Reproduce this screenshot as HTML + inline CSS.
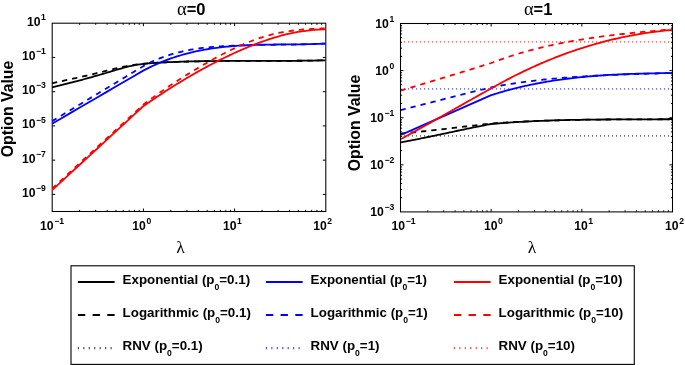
<!DOCTYPE html>
<html><head><meta charset="utf-8"><style>html,body{margin:0;padding:0;background:#fff;overflow:hidden;font-family:"Liberation Sans",sans-serif}svg{display:block;will-change:transform}</style></head><body>
<svg width="685" height="365" viewBox="0 0 685 365" font-family="Liberation Sans, sans-serif" font-weight="bold">
<rect width="685" height="365" fill="#fff"/>
<path d="M79.65 211.5v-1.6M79.65 23.2v1.6M95.71 211.5v-1.6M95.71 23.2v1.6M107.11 211.5v-1.6M107.11 23.2v1.6M115.95 211.5v-1.6M115.95 23.2v1.6M123.17 211.5v-1.6M123.17 23.2v1.6M129.27 211.5v-1.6M129.27 23.2v1.6M134.56 211.5v-1.6M134.56 23.2v1.6M139.23 211.5v-1.6M139.23 23.2v1.6M143.40 211.5v-3M143.40 23.2v3M170.85 211.5v-1.6M170.85 23.2v1.6M186.91 211.5v-1.6M186.91 23.2v1.6M198.31 211.5v-1.6M198.31 23.2v1.6M207.15 211.5v-1.6M207.15 23.2v1.6M214.37 211.5v-1.6M214.37 23.2v1.6M220.47 211.5v-1.6M220.47 23.2v1.6M225.76 211.5v-1.6M225.76 23.2v1.6M230.43 211.5v-1.6M230.43 23.2v1.6M234.60 211.5v-3M234.60 23.2v3M262.05 211.5v-1.6M262.05 23.2v1.6M278.11 211.5v-1.6M278.11 23.2v1.6M289.51 211.5v-1.6M289.51 23.2v1.6M298.35 211.5v-1.6M298.35 23.2v1.6M305.57 211.5v-1.6M305.57 23.2v1.6M311.67 211.5v-1.6M311.67 23.2v1.6M316.96 211.5v-1.6M316.96 23.2v1.6M321.63 211.5v-1.6M321.63 23.2v1.6M52.2 194.38h3M325.8 194.38h-3M52.2 160.15h3M325.8 160.15h-3M52.2 125.91h3M325.8 125.91h-3M52.2 91.67h3M325.8 91.67h-3M52.2 57.44h3M325.8 57.44h-3" stroke="#000" stroke-width="1" fill="none"/>
<rect x="52.2" y="23.2" width="273.60" height="188.30" fill="none" stroke="#000" stroke-width="1.05"/>
<path d="M427.79 211.9v-1.6M427.79 23.5v1.6M443.76 211.9v-1.6M443.76 23.5v1.6M455.09 211.9v-1.6M455.09 23.5v1.6M463.87 211.9v-1.6M463.87 23.5v1.6M471.05 211.9v-1.6M471.05 23.5v1.6M477.12 211.9v-1.6M477.12 23.5v1.6M482.38 211.9v-1.6M482.38 23.5v1.6M487.02 211.9v-1.6M487.02 23.5v1.6M491.17 211.9v-3M491.17 23.5v3M518.46 211.9v-1.6M518.46 23.5v1.6M534.43 211.9v-1.6M534.43 23.5v1.6M545.75 211.9v-1.6M545.75 23.5v1.6M554.54 211.9v-1.6M554.54 23.5v1.6M561.72 211.9v-1.6M561.72 23.5v1.6M567.79 211.9v-1.6M567.79 23.5v1.6M573.05 211.9v-1.6M573.05 23.5v1.6M577.68 211.9v-1.6M577.68 23.5v1.6M581.83 211.9v-3M581.83 23.5v3M609.13 211.9v-1.6M609.13 23.5v1.6M625.09 211.9v-1.6M625.09 23.5v1.6M636.42 211.9v-1.6M636.42 23.5v1.6M645.21 211.9v-1.6M645.21 23.5v1.6M652.39 211.9v-1.6M652.39 23.5v1.6M658.46 211.9v-1.6M658.46 23.5v1.6M663.71 211.9v-1.6M663.71 23.5v1.6M668.35 211.9v-1.6M668.35 23.5v1.6M400.5 197.72h1.6M672.5 197.72h-1.6M400.5 189.43h1.6M672.5 189.43h-1.6M400.5 183.54h1.6M672.5 183.54h-1.6M400.5 178.98h1.6M672.5 178.98h-1.6M400.5 175.25h1.6M672.5 175.25h-1.6M400.5 172.10h1.6M672.5 172.10h-1.6M400.5 169.36h1.6M672.5 169.36h-1.6M400.5 166.96h1.6M672.5 166.96h-1.6M400.5 164.80h3M672.5 164.80h-3M400.5 150.62h1.6M672.5 150.62h-1.6M400.5 142.33h1.6M672.5 142.33h-1.6M400.5 136.44h1.6M672.5 136.44h-1.6M400.5 131.88h1.6M672.5 131.88h-1.6M400.5 128.15h1.6M672.5 128.15h-1.6M400.5 125.00h1.6M672.5 125.00h-1.6M400.5 122.26h1.6M672.5 122.26h-1.6M400.5 119.86h1.6M672.5 119.86h-1.6M400.5 117.70h3M672.5 117.70h-3M400.5 103.52h1.6M672.5 103.52h-1.6M400.5 95.23h1.6M672.5 95.23h-1.6M400.5 89.34h1.6M672.5 89.34h-1.6M400.5 84.78h1.6M672.5 84.78h-1.6M400.5 81.05h1.6M672.5 81.05h-1.6M400.5 77.90h1.6M672.5 77.90h-1.6M400.5 75.16h1.6M672.5 75.16h-1.6M400.5 72.76h1.6M672.5 72.76h-1.6M400.5 70.60h3M672.5 70.60h-3M400.5 56.42h1.6M672.5 56.42h-1.6M400.5 48.13h1.6M672.5 48.13h-1.6M400.5 42.24h1.6M672.5 42.24h-1.6M400.5 37.68h1.6M672.5 37.68h-1.6M400.5 33.95h1.6M672.5 33.95h-1.6M400.5 30.80h1.6M672.5 30.80h-1.6M400.5 28.06h1.6M672.5 28.06h-1.6M400.5 25.66h1.6M672.5 25.66h-1.6" stroke="#000" stroke-width="1" fill="none"/>
<rect x="400.5" y="23.5" width="272.00" height="188.40" fill="none" stroke="#000" stroke-width="1.05"/>
<defs><clipPath id="cl"><rect x="52" y="23" width="274" height="188.5"/></clipPath><clipPath id="cr"><rect x="401" y="23.5" width="271" height="188.4"/></clipPath></defs>
<g clip-path="url(#cl)" fill="none" stroke-width="1.8" stroke-linejoin="round">
<path d="M52.00 87.39L54.00 86.92L55.99 86.45L57.99 85.97L59.99 85.48L61.98 84.99L63.98 84.49L65.97 83.99L67.97 83.48L69.97 82.97L71.96 82.45L73.96 81.93L75.96 81.40L77.95 80.87L79.95 80.34L81.95 79.80L83.94 79.25L85.94 78.70L87.93 78.15L89.93 77.59L91.93 77.03L93.92 76.47L95.92 75.90L97.92 75.32L99.91 74.75L101.91 74.16L103.91 73.58L105.90 72.99L107.90 72.40L109.89 71.80L111.89 71.20L113.89 70.60L115.88 70.01L117.88 69.42L119.88 68.84L121.87 68.27L123.87 67.72L125.86 67.20L127.86 66.69L129.86 66.21L131.85 65.76L133.85 65.35L135.85 64.97L137.84 64.63L139.84 64.33L141.84 64.06L143.83 63.81L145.83 63.60L147.82 63.40L149.82 63.23L151.82 63.08L153.81 62.94L155.81 62.82L157.81 62.70L159.80 62.60L161.80 62.49L163.80 62.40L165.79 62.30L167.79 62.21L169.78 62.13L171.78 62.04L173.78 61.96L175.77 61.89L177.77 61.82L179.77 61.75L181.76 61.69L183.76 61.63L185.76 61.57L187.75 61.51L189.75 61.46L191.74 61.41L193.74 61.37L195.74 61.32L197.73 61.28L199.73 61.25L201.73 61.21L203.72 61.18L205.72 61.15L207.72 61.12L209.71 61.10L211.71 61.07L213.70 61.05L215.70 61.03L217.70 61.01L219.69 61.00L221.69 60.98L223.69 60.97L225.68 60.96L227.68 60.95L229.68 60.94L231.67 60.93L233.67 60.92L235.66 60.92L237.66 60.91L239.66 60.91L241.65 60.91L243.65 60.90L245.65 60.90L247.64 60.90L249.64 60.90L251.64 60.90L253.63 60.90L255.63 60.90L257.62 60.90L259.62 60.90L261.62 60.90L263.61 60.90L265.61 60.90L267.61 60.89L269.60 60.89L271.60 60.89L273.59 60.89L275.59 60.88L277.59 60.88L279.58 60.87L281.58 60.87L283.58 60.86L285.57 60.85L287.57 60.84L289.57 60.83L291.56 60.82L293.56 60.80L295.55 60.79L297.55 60.77L299.55 60.75L301.54 60.73L303.54 60.70L305.54 60.68L307.53 60.65L309.53 60.62L311.53 60.59L313.52 60.55L315.52 60.52L317.51 60.48L319.51 60.43L321.51 60.39L323.50 60.34L325.50 60.29" stroke="#000"/>
<path d="M52.00 83.19L54.00 82.77L55.99 82.35L57.99 81.93L59.99 81.50L61.98 81.08L63.98 80.65L65.97 80.22L67.97 79.79L69.97 79.36L71.96 78.93L73.96 78.49L75.96 78.05L77.95 77.60L79.95 77.15L81.95 76.69L83.94 76.23L85.94 75.77L87.93 75.30L89.93 74.82L91.93 74.33L93.92 73.84L95.92 73.34L97.92 72.84L99.91 72.33L101.91 71.83L103.91 71.32L105.90 70.81L107.90 70.31L109.89 69.82L111.89 69.33L113.89 68.85L115.88 68.38L117.88 67.92L119.88 67.48L121.87 67.06L123.87 66.65L125.86 66.26L127.86 65.89L129.86 65.55L131.85 65.23L133.85 64.92L135.85 64.64L137.84 64.38L139.84 64.14L141.84 63.93L143.83 63.73L145.83 63.55L147.82 63.38L149.82 63.22L151.82 63.08L153.81 62.94L155.81 62.82L157.81 62.70L159.80 62.60L161.80 62.49L163.80 62.40L165.79 62.30L167.79 62.21L169.78 62.13L171.78 62.04L173.78 61.96L175.77 61.89L177.77 61.82L179.77 61.75L181.76 61.69L183.76 61.63L185.76 61.57L187.75 61.51L189.75 61.46L191.74 61.41L193.74 61.37L195.74 61.32L197.73 61.28L199.73 61.25L201.73 61.21L203.72 61.18L205.72 61.15L207.72 61.12L209.71 61.10L211.71 61.07L213.70 61.05L215.70 61.03L217.70 61.01L219.69 61.00L221.69 60.98L223.69 60.97L225.68 60.96L227.68 60.95L229.68 60.94L231.67 60.93L233.67 60.92L235.66 60.92L237.66 60.91L239.66 60.91L241.65 60.91L243.65 60.90L245.65 60.90L247.64 60.90L249.64 60.90L251.64 60.90L253.63 60.90L255.63 60.90L257.62 60.90L259.62 60.90L261.62 60.90L263.61 60.90L265.61 60.90L267.61 60.89L269.60 60.89L271.60 60.89L273.59 60.89L275.59 60.88L277.59 60.88L279.58 60.87L281.58 60.87L283.58 60.86L285.57 60.85L287.57 60.84L289.57 60.83L291.56 60.82L293.56 60.80L295.55 60.79L297.55 60.77L299.55 60.75L301.54 60.73L303.54 60.70L305.54 60.68L307.53 60.65L309.53 60.62L311.53 60.59L313.52 60.55L315.52 60.52L317.51 60.48L319.51 60.43L321.51 60.39L323.50 60.34L325.50 60.29" stroke="#000" stroke-dasharray="5.3 5.0"/>
<path d="M52.00 123.74L61.12 118.42L70.24 113.11L79.36 107.80L88.48 102.49L97.60 97.18L106.72 91.86L115.84 86.55L124.96 81.24L134.08 75.93L143.20 70.61L145.18 69.64L147.16 68.62L149.14 67.62L151.13 66.66L153.11 65.72L155.09 64.81L157.07 63.93L159.05 63.07L161.03 62.24L163.02 61.43L165.00 60.65L166.98 59.89L168.96 59.16L170.94 58.45L172.92 57.77L174.90 57.11L176.89 56.47L178.87 55.85L180.85 55.26L182.83 54.69L184.81 54.13L186.79 53.60L188.77 53.09L190.76 52.60L192.74 52.13L194.72 51.67L196.70 51.24L198.68 50.82L200.66 50.42L202.65 50.04L204.63 49.68L206.61 49.33L208.59 49.00L210.57 48.69L212.55 48.39L214.53 48.10L216.52 47.83L218.50 47.57L220.48 47.33L222.46 47.10L224.44 46.89L226.42 46.68L228.41 46.49L230.39 46.31L232.37 46.14L234.35 45.99L236.33 45.84L238.31 45.70L240.29 45.58L242.28 45.46L244.26 45.35L246.24 45.25L248.22 45.16L250.20 45.07L252.18 45.00L254.17 44.93L256.15 44.86L258.13 44.81L260.11 44.75L262.09 44.71L264.07 44.66L266.05 44.63L268.04 44.59L270.02 44.56L272.00 44.54L273.98 44.52L275.96 44.49L277.94 44.48L279.93 44.46L281.91 44.44L283.89 44.43L285.87 44.41L287.85 44.40L289.83 44.38L291.81 44.37L293.80 44.35L295.78 44.33L297.76 44.31L299.74 44.29L301.72 44.26L303.70 44.23L305.68 44.20L307.67 44.16L309.65 44.12L311.63 44.08L313.61 44.03L315.59 43.97L317.57 43.91L319.56 43.84L321.54 43.76L323.52 43.68L325.50 43.59" stroke="#00f"/>
<path d="M52.00 121.15L61.12 115.65L70.24 110.15L79.36 104.66L88.48 99.16L97.60 93.66L106.72 88.17L115.84 82.67L124.96 77.17L134.08 71.68L143.20 66.18L145.18 65.08L147.16 64.05L149.14 63.05L151.13 62.09L153.11 61.17L155.09 60.29L157.07 59.44L159.05 58.63L161.03 57.85L163.02 57.11L165.00 56.40L166.98 55.72L168.96 55.07L170.94 54.45L172.92 53.86L174.90 53.30L176.89 52.76L178.87 52.26L180.85 51.78L182.83 51.32L184.81 50.89L186.79 50.48L188.77 50.10L190.76 49.73L192.74 49.39L194.72 49.07L196.70 48.77L198.68 48.49L200.66 48.22L202.65 47.97L204.63 47.74L206.61 47.52L208.59 47.32L210.57 47.13L212.55 46.95L214.53 46.79L216.52 46.63L218.50 46.49L220.48 46.36L222.46 46.23L224.44 46.12L226.42 46.01L228.41 45.90L230.39 45.81L232.37 45.72L234.35 45.63L236.33 45.55L238.31 45.48L240.29 45.41L242.28 45.35L244.26 45.29L246.24 45.24L248.22 45.18L250.20 45.14L252.18 45.09L254.17 45.05L256.15 45.02L258.13 44.98L260.11 44.95L262.09 44.92L264.07 44.89L266.05 44.87L268.04 44.84L270.02 44.82L272.00 44.80L273.98 44.78L275.96 44.75L277.94 44.73L279.93 44.71L281.91 44.69L283.89 44.67L285.87 44.64L287.85 44.62L289.83 44.59L291.81 44.56L293.80 44.53L295.78 44.50L297.76 44.47L299.74 44.43L301.72 44.39L303.70 44.34L305.68 44.30L307.67 44.24L309.65 44.19L311.63 44.13L313.61 44.06L315.59 43.99L317.57 43.92L319.56 43.84L321.54 43.75L323.52 43.66L325.50 43.56" stroke="#00f" stroke-dasharray="5.3 5.0"/>
<path d="M52.00 190.18L61.12 181.79L70.24 173.40L79.36 165.00L88.48 156.61L97.60 148.22L106.72 139.83L115.84 131.44L124.96 123.05L134.08 114.66L143.20 106.26L145.18 104.89L147.16 103.52L149.14 102.16L151.13 100.82L153.11 99.48L155.09 98.14L157.07 96.82L159.05 95.51L161.03 94.20L163.02 92.91L165.00 91.62L166.98 90.34L168.96 89.07L170.94 87.82L172.92 86.57L174.90 85.33L176.89 84.10L178.87 82.88L180.85 81.67L182.83 80.47L184.81 79.28L186.79 78.09L188.77 76.92L190.76 75.76L192.74 74.62L194.72 73.48L196.70 72.35L198.68 71.23L200.66 70.12L202.65 69.03L204.63 67.94L206.61 66.87L208.59 65.81L210.57 64.76L212.55 63.72L214.53 62.69L216.52 61.67L218.50 60.66L220.48 59.67L222.46 58.69L224.44 57.72L226.42 56.76L228.41 55.82L230.39 54.88L232.37 53.96L234.35 53.05L236.33 52.15L238.31 51.27L240.29 50.40L242.28 49.54L244.26 48.69L246.24 47.86L248.22 47.04L250.20 46.23L252.18 45.44L254.17 44.66L256.15 43.89L258.13 43.14L260.11 42.41L262.09 41.69L264.07 40.98L266.05 40.30L268.04 39.63L270.02 38.97L272.00 38.34L273.98 37.72L275.96 37.13L277.94 36.55L279.93 36.00L281.91 35.46L283.89 34.95L285.87 34.45L287.85 33.98L289.83 33.53L291.81 33.11L293.80 32.71L295.78 32.33L297.76 31.97L299.74 31.63L301.72 31.32L303.70 31.03L305.68 30.77L307.67 30.52L309.65 30.30L311.63 30.10L313.61 29.92L315.59 29.77L317.57 29.64L319.56 29.53L321.54 29.44L323.52 29.38L325.50 29.34" stroke="#f00"/>
<path d="M52.00 188.68L61.12 180.29L70.24 171.90L79.36 163.50L88.48 155.11L97.60 146.72L106.72 138.33L115.84 129.94L124.96 121.55L134.08 113.16L143.20 104.76L145.18 103.23L147.16 101.74L149.14 100.26L151.13 98.80L153.11 97.36L155.09 95.93L157.07 94.52L159.05 93.12L161.03 91.74L163.02 90.37L165.00 89.01L166.98 87.67L168.96 86.34L170.94 85.02L172.92 83.71L174.90 82.42L176.89 81.13L178.87 79.86L180.85 78.59L182.83 77.34L184.81 76.09L186.79 74.86L188.77 73.63L190.76 72.41L192.74 71.20L194.72 69.99L196.70 68.79L198.68 67.61L200.66 66.43L202.65 65.26L204.63 64.10L206.61 62.95L208.59 61.82L210.57 60.69L212.55 59.58L214.53 58.48L216.52 57.39L218.50 56.32L220.48 55.26L222.46 54.22L224.44 53.20L226.42 52.19L228.41 51.19L230.39 50.22L232.37 49.26L234.35 48.32L236.33 47.39L238.31 46.49L240.29 45.61L242.28 44.75L244.26 43.91L246.24 43.09L248.22 42.29L250.20 41.51L252.18 40.75L254.17 40.02L256.15 39.31L258.13 38.62L260.11 37.96L262.09 37.32L264.07 36.70L266.05 36.11L268.04 35.55L270.02 35.01L272.00 34.49L273.98 34.00L275.96 33.54L277.94 33.11L279.93 32.70L281.91 32.32L283.89 31.96L285.87 31.62L287.85 31.31L289.83 31.02L291.81 30.75L293.80 30.50L295.78 30.27L297.76 30.06L299.74 29.86L301.72 29.68L303.70 29.52L305.68 29.36L307.67 29.22L309.65 29.09L311.63 28.97L313.61 28.86L315.59 28.76L317.57 28.66L319.56 28.57L321.54 28.49L323.52 28.41L325.50 28.33" stroke="#f00" stroke-dasharray="5.3 5.0"/>
</g>
<g clip-path="url(#cr)" fill="none" stroke-width="1.8" stroke-linejoin="round">
<path d="M404.05 135.95H672" stroke="#000" stroke-dasharray="0.9 3.1" stroke-width="1.8" stroke-opacity="0.62"/>
<path d="M404.05 88.9H672" stroke="#00f" stroke-dasharray="0.9 3.1" stroke-width="1.8" stroke-opacity="0.62"/>
<path d="M404.05 41.8H672" stroke="#f00" stroke-dasharray="0.9 3.1" stroke-width="1.8" stroke-opacity="0.62"/>
<path d="M400.50 142.40L402.47 142.04L404.44 141.68L406.42 141.31L408.39 140.94L410.36 140.56L412.33 140.18L414.30 139.79L416.27 139.40L418.25 139.01L420.22 138.61L422.19 138.22L424.16 137.81L426.13 137.41L428.10 137.00L430.08 136.59L432.05 136.18L434.02 135.77L435.99 135.35L437.96 134.94L439.93 134.52L441.91 134.10L443.88 133.68L445.85 133.26L447.82 132.85L449.79 132.43L451.77 132.01L453.74 131.59L455.71 131.17L457.68 130.75L459.65 130.34L461.62 129.92L463.60 129.51L465.57 129.10L467.54 128.69L469.51 128.28L471.48 127.87L473.45 127.47L475.43 127.07L477.40 126.67L479.37 126.28L481.34 125.89L483.31 125.50L485.28 125.12L487.26 124.74L489.23 124.37L491.20 124.00L493.19 123.83L495.18 123.66L497.18 123.49L499.17 123.33L501.16 123.18L503.15 123.03L505.15 122.88L507.14 122.73L509.13 122.60L511.12 122.46L513.12 122.33L515.11 122.20L517.10 122.08L519.09 121.96L521.08 121.84L523.08 121.73L525.07 121.62L527.06 121.52L529.05 121.41L531.05 121.31L533.04 121.22L535.03 121.13L537.02 121.04L539.02 120.95L541.01 120.87L543.00 120.79L544.99 120.72L546.98 120.64L548.98 120.57L550.97 120.50L552.96 120.44L554.95 120.38L556.95 120.32L558.94 120.26L560.93 120.20L562.92 120.15L564.92 120.10L566.91 120.05L568.90 120.01L570.89 119.96L572.88 119.92L574.88 119.88L576.87 119.85L578.86 119.81L580.85 119.78L582.85 119.75L584.84 119.72L586.83 119.69L588.82 119.66L590.82 119.64L592.81 119.61L594.80 119.59L596.79 119.57L598.78 119.55L600.78 119.53L602.77 119.52L604.76 119.50L606.75 119.49L608.75 119.47L610.74 119.46L612.73 119.45L614.72 119.44L616.72 119.43L618.71 119.42L620.70 119.41L622.69 119.40L624.68 119.39L626.68 119.38L628.67 119.38L630.66 119.37L632.65 119.36L634.65 119.36L636.64 119.35L638.63 119.35L640.62 119.34L642.62 119.33L644.61 119.33L646.60 119.32L648.59 119.32L650.58 119.31L652.58 119.30L654.57 119.29L656.56 119.29L658.55 119.28L660.55 119.27L662.54 119.26L664.53 119.25L666.52 119.24L668.52 119.23L670.51 119.21L672.50 119.20" stroke="#000"/>
<path d="M400.50 133.60L402.47 133.42L404.44 133.24L406.42 133.05L408.39 132.86L410.36 132.67L412.33 132.48L414.30 132.28L416.27 132.08L418.25 131.87L420.22 131.67L422.19 131.46L424.16 131.25L426.13 131.03L428.10 130.82L430.08 130.60L432.05 130.38L434.02 130.16L435.99 129.94L437.96 129.71L439.93 129.49L441.91 129.26L443.88 129.03L445.85 128.80L447.82 128.58L449.79 128.35L451.77 128.12L453.74 127.88L455.71 127.65L457.68 127.42L459.65 127.19L461.62 126.96L463.60 126.73L465.57 126.50L467.54 126.27L469.51 126.04L471.48 125.81L473.45 125.59L475.43 125.36L477.40 125.13L479.37 124.91L481.34 124.69L483.31 124.47L485.28 124.25L487.26 124.03L489.23 123.81L491.20 123.60L493.19 123.42L495.18 123.27L497.18 123.13L499.17 122.99L501.16 122.85L503.15 122.71L505.15 122.58L507.14 122.46L509.13 122.33L511.12 122.21L513.12 122.10L515.11 121.98L517.10 121.87L519.09 121.77L521.08 121.66L523.08 121.56L525.07 121.47L527.06 121.37L529.05 121.28L531.05 121.19L533.04 121.11L535.03 121.03L537.02 120.95L539.02 120.87L541.01 120.80L543.00 120.72L544.99 120.66L546.98 120.59L548.98 120.53L550.97 120.46L552.96 120.41L554.95 120.35L556.95 120.29L558.94 120.24L560.93 120.19L562.92 120.14L564.92 120.10L566.91 120.05L568.90 120.01L570.89 119.97L572.88 119.93L574.88 119.90L576.87 119.86L578.86 119.83L580.85 119.80L582.85 119.77L584.84 119.74L586.83 119.71L588.82 119.69L590.82 119.66L592.81 119.64L594.80 119.62L596.79 119.60L598.78 119.58L600.78 119.56L602.77 119.55L604.76 119.53L606.75 119.51L608.75 119.50L610.74 119.49L612.73 119.47L614.72 119.46L616.72 119.45L618.71 119.44L620.70 119.43L622.69 119.42L624.68 119.41L626.68 119.40L628.67 119.40L630.66 119.39L632.65 119.38L634.65 119.37L636.64 119.37L638.63 119.36L640.62 119.35L642.62 119.34L644.61 119.34L646.60 119.33L648.59 119.32L650.58 119.31L652.58 119.31L654.57 119.30L656.56 119.29L658.55 119.28L660.55 119.27L662.54 119.26L664.53 119.25L666.52 119.24L668.52 119.23L670.51 119.21L672.50 119.20" stroke="#000" stroke-dasharray="5.3 5.0"/>
<path d="M400.50 135.09L409.57 131.09L418.64 127.10L427.71 123.11L436.78 119.12L445.85 115.13L454.92 111.14L463.99 107.15L473.06 103.15L482.13 99.16L491.20 95.17L493.19 94.55L495.18 93.93L497.18 93.31L499.17 92.71L501.16 92.13L503.15 91.55L505.15 90.99L507.14 90.43L509.13 89.89L511.12 89.37L513.12 88.85L515.11 88.34L517.10 87.85L519.09 87.37L521.08 86.89L523.08 86.43L525.07 85.98L527.06 85.54L529.05 85.11L531.05 84.69L533.04 84.28L535.03 83.88L537.02 83.50L539.02 83.12L541.01 82.75L543.00 82.39L544.99 82.04L546.98 81.69L548.98 81.36L550.97 81.04L552.96 80.72L554.95 80.42L556.95 80.12L558.94 79.83L560.93 79.55L562.92 79.28L564.92 79.01L566.91 78.76L568.90 78.51L570.89 78.27L572.88 78.04L574.88 77.81L576.87 77.59L578.86 77.38L580.85 77.17L582.85 76.98L584.84 76.79L586.83 76.60L588.82 76.42L590.82 76.25L592.81 76.09L594.80 75.93L596.79 75.77L598.78 75.62L600.78 75.48L602.77 75.35L604.76 75.21L606.75 75.09L608.75 74.97L610.74 74.85L612.73 74.74L614.72 74.64L616.72 74.53L618.71 74.44L620.70 74.34L622.69 74.25L624.68 74.17L626.68 74.09L628.67 74.01L630.66 73.94L632.65 73.87L634.65 73.80L636.64 73.74L638.63 73.68L640.62 73.62L642.62 73.57L644.61 73.52L646.60 73.47L648.59 73.42L650.58 73.38L652.58 73.34L654.57 73.30L656.56 73.26L658.55 73.22L660.55 73.19L662.54 73.16L664.53 73.12L666.52 73.09L668.52 73.06L670.51 73.04L672.50 73.01" stroke="#00f"/>
<path d="M400.50 110.20L402.47 109.71L404.44 109.22L406.42 108.72L408.39 108.23L410.36 107.73L412.33 107.23L414.30 106.74L416.27 106.24L418.25 105.74L420.22 105.23L422.19 104.73L424.16 104.23L426.13 103.72L428.10 103.22L430.08 102.71L432.05 102.21L434.02 101.70L435.99 101.19L437.96 100.69L439.93 100.18L441.91 99.68L443.88 99.17L445.85 98.66L447.82 98.16L449.79 97.66L451.77 97.15L453.74 96.65L455.71 96.15L457.68 95.65L459.65 95.15L461.62 94.65L463.60 94.15L465.57 93.65L467.54 93.16L469.51 92.67L471.48 92.18L473.45 91.69L475.43 91.20L477.40 90.72L479.37 90.23L481.34 89.75L483.31 89.27L485.28 88.80L487.26 88.33L489.23 87.86L491.20 87.39L493.19 86.97L495.18 86.59L497.18 86.23L499.17 85.87L501.16 85.51L503.15 85.17L505.15 84.83L507.14 84.50L509.13 84.18L511.12 83.87L513.12 83.56L515.11 83.26L517.10 82.96L519.09 82.68L521.08 82.40L523.08 82.12L525.07 81.85L527.06 81.59L529.05 81.34L531.05 81.09L533.04 80.84L535.03 80.61L537.02 80.37L539.02 80.15L541.01 79.93L543.00 79.71L544.99 79.51L546.98 79.30L548.98 79.10L550.97 78.91L552.96 78.72L554.95 78.54L556.95 78.36L558.94 78.19L560.93 78.02L562.92 77.85L564.92 77.69L566.91 77.54L568.90 77.39L570.89 77.24L572.88 77.10L574.88 76.96L576.87 76.82L578.86 76.69L580.85 76.56L582.85 76.44L584.84 76.32L586.83 76.20L588.82 76.09L590.82 75.98L592.81 75.87L594.80 75.77L596.79 75.66L598.78 75.57L600.78 75.47L602.77 75.38L604.76 75.29L606.75 75.20L608.75 75.11L610.74 75.03L612.73 74.94L614.72 74.86L616.72 74.79L618.71 74.71L620.70 74.64L622.69 74.56L624.68 74.49L626.68 74.42L628.67 74.35L630.66 74.29L632.65 74.22L634.65 74.16L636.64 74.09L638.63 74.03L640.62 73.97L642.62 73.91L644.61 73.85L646.60 73.78L648.59 73.72L650.58 73.66L652.58 73.60L654.57 73.54L656.56 73.48L658.55 73.42L660.55 73.36L662.54 73.30L664.53 73.24L666.52 73.18L668.52 73.12L670.51 73.06L672.50 72.99" stroke="#00f" stroke-dasharray="5.3 5.0"/>
<path d="M400.50 139.30L402.47 138.22L404.44 137.14L406.42 136.06L408.39 134.97L410.36 133.88L412.33 132.79L414.30 131.69L416.27 130.59L418.25 129.49L420.22 128.39L422.19 127.29L424.16 126.18L426.13 125.07L428.10 123.96L430.08 122.85L432.05 121.74L434.02 120.63L435.99 119.51L437.96 118.40L439.93 117.28L441.91 116.16L443.88 115.04L445.85 113.93L447.82 112.81L449.79 111.69L451.77 110.57L453.74 109.45L455.71 108.33L457.68 107.21L459.65 106.10L461.62 104.98L463.60 103.86L465.57 102.75L467.54 101.64L469.51 100.52L471.48 99.41L473.45 98.30L475.43 97.19L477.40 96.09L479.37 94.98L481.34 93.88L483.31 92.78L485.28 91.68L487.26 90.58L489.23 89.49L491.20 88.40L493.19 87.29L495.18 86.16L497.18 85.05L499.17 83.95L501.16 82.87L503.15 81.79L505.15 80.72L507.14 79.67L509.13 78.63L511.12 77.59L513.12 76.57L515.11 75.56L517.10 74.56L519.09 73.58L521.08 72.60L523.08 71.64L525.07 70.68L527.06 69.74L529.05 68.81L531.05 67.89L533.04 66.98L535.03 66.08L537.02 65.19L539.02 64.31L541.01 63.45L543.00 62.59L544.99 61.75L546.98 60.91L548.98 60.09L550.97 59.28L552.96 58.48L554.95 57.69L556.95 56.91L558.94 56.14L560.93 55.39L562.92 54.64L564.92 53.90L566.91 53.18L568.90 52.47L570.89 51.76L572.88 51.07L574.88 50.39L576.87 49.72L578.86 49.06L580.85 48.41L582.85 47.77L584.84 47.14L586.83 46.53L588.82 45.92L590.82 45.33L592.81 44.74L594.80 44.17L596.79 43.60L598.78 43.05L600.78 42.51L602.77 41.97L604.76 41.45L606.75 40.94L608.75 40.44L610.74 39.95L612.73 39.47L614.72 39.00L616.72 38.54L618.71 38.10L620.70 37.66L622.69 37.23L624.68 36.82L626.68 36.41L628.67 36.01L630.66 35.63L632.65 35.25L634.65 34.89L636.64 34.53L638.63 34.19L640.62 33.86L642.62 33.53L644.61 33.22L646.60 32.92L648.59 32.63L650.58 32.34L652.58 32.07L654.57 31.81L656.56 31.56L658.55 31.32L660.55 31.09L662.54 30.87L664.53 30.66L666.52 30.46L668.52 30.27L670.51 30.09L672.50 29.92" stroke="#f00"/>
<path d="M400.50 90.61L402.47 90.03L404.44 89.44L406.42 88.86L408.39 88.28L410.36 87.69L412.33 87.10L414.30 86.52L416.27 85.93L418.25 85.34L420.22 84.75L422.19 84.17L424.16 83.57L426.13 82.98L428.10 82.39L430.08 81.80L432.05 81.21L434.02 80.61L435.99 80.02L437.96 79.42L439.93 78.82L441.91 78.23L443.88 77.63L445.85 77.03L447.82 76.43L449.79 75.83L451.77 75.23L453.74 74.63L455.71 74.02L457.68 73.42L459.65 72.81L461.62 72.21L463.60 71.60L465.57 70.99L467.54 70.38L469.51 69.77L471.48 69.16L473.45 68.55L475.43 67.94L477.40 67.33L479.37 66.71L481.34 66.10L483.31 65.48L485.28 64.86L487.26 64.25L489.23 63.63L491.20 63.01L493.19 62.23L495.18 61.49L497.18 60.76L499.17 60.04L501.16 59.33L503.15 58.64L505.15 57.96L507.14 57.29L509.13 56.63L511.12 55.99L513.12 55.35L515.11 54.73L517.10 54.12L519.09 53.51L521.08 52.92L523.08 52.35L525.07 51.78L527.06 51.22L529.05 50.67L531.05 50.13L533.04 49.61L535.03 49.09L537.02 48.58L539.02 48.08L541.01 47.59L543.00 47.11L544.99 46.64L546.98 46.18L548.98 45.73L550.97 45.29L552.96 44.85L554.95 44.42L556.95 44.01L558.94 43.60L560.93 43.19L562.92 42.80L564.92 42.42L566.91 42.04L568.90 41.67L570.89 41.30L572.88 40.95L574.88 40.60L576.87 40.26L578.86 39.92L580.85 39.59L582.85 39.27L584.84 38.95L586.83 38.65L588.82 38.34L590.82 38.04L592.81 37.75L594.80 37.47L596.79 37.19L598.78 36.91L600.78 36.64L602.77 36.38L604.76 36.12L606.75 35.87L608.75 35.62L610.74 35.37L612.73 35.13L614.72 34.89L616.72 34.66L618.71 34.43L620.70 34.21L622.69 33.99L624.68 33.77L626.68 33.56L628.67 33.35L630.66 33.14L632.65 32.94L634.65 32.74L636.64 32.54L638.63 32.34L640.62 32.15L642.62 31.96L644.61 31.77L646.60 31.58L648.59 31.40L650.58 31.21L652.58 31.03L654.57 30.85L656.56 30.67L658.55 30.50L660.55 30.32L662.54 30.14L664.53 29.97L666.52 29.80L668.52 29.62L670.51 29.45L672.50 29.28" stroke="#f00" stroke-dasharray="5.3 5.0"/>
</g>
<text x="40.00" y="229.5" font-size="12.2">10<tspan font-size="8.6" dx="0.6" dy="-5.8">−1</tspan></text>
<text x="132.30" y="229.5" font-size="12.2">10<tspan font-size="8.6" dx="0.6" dy="-5.8">0</tspan></text>
<text x="222.90" y="229.5" font-size="12.2">10<tspan font-size="8.6" dx="0.6" dy="-5.8">1</tspan></text>
<text x="313.20" y="229.5" font-size="12.2">10<tspan font-size="8.6" dx="0.6" dy="-5.8">2</tspan></text>
<text x="391.50" y="230.1" font-size="12.2">10<tspan font-size="8.6" dx="0.6" dy="-5.8">−1</tspan></text>
<text x="483.90" y="230.1" font-size="12.2">10<tspan font-size="8.6" dx="0.6" dy="-5.8">0</tspan></text>
<text x="574.20" y="230.1" font-size="12.2">10<tspan font-size="8.6" dx="0.6" dy="-5.8">1</tspan></text>
<text x="665.00" y="230.1" font-size="12.2">10<tspan font-size="8.6" dx="0.6" dy="-5.8">2</tspan></text>
<text x="45.90" y="25.70" text-anchor="end" font-size="12.2">10<tspan font-size="8.6" dx="0.6" dy="-5.8">1</tspan></text>
<text x="45.90" y="59.94" text-anchor="end" font-size="12.2">10<tspan font-size="8.6" dx="0.6" dy="-5.8">−1</tspan></text>
<text x="45.90" y="94.17" text-anchor="end" font-size="12.2">10<tspan font-size="8.6" dx="0.6" dy="-5.8">−3</tspan></text>
<text x="45.90" y="128.41" text-anchor="end" font-size="12.2">10<tspan font-size="8.6" dx="0.6" dy="-5.8">−5</tspan></text>
<text x="45.90" y="162.65" text-anchor="end" font-size="12.2">10<tspan font-size="8.6" dx="0.6" dy="-5.8">−7</tspan></text>
<text x="45.90" y="196.88" text-anchor="end" font-size="12.2">10<tspan font-size="8.6" dx="0.6" dy="-5.8">−9</tspan></text>
<text x="394.20" y="27.50" text-anchor="end" font-size="12.2">10<tspan font-size="8.6" dx="0.6" dy="-5.8">1</tspan></text>
<text x="394.20" y="74.60" text-anchor="end" font-size="12.2">10<tspan font-size="8.6" dx="0.6" dy="-5.8">0</tspan></text>
<text x="394.20" y="121.70" text-anchor="end" font-size="12.2">10<tspan font-size="8.6" dx="0.6" dy="-5.8">−1</tspan></text>
<text x="394.20" y="168.80" text-anchor="end" font-size="12.2">10<tspan font-size="8.6" dx="0.6" dy="-5.8">−2</tspan></text>
<text x="394.20" y="215.90" text-anchor="end" font-size="12.2">10<tspan font-size="8.6" dx="0.6" dy="-5.8">−3</tspan></text>
<text x="177" y="14.5" font-size="16.5"><tspan font-family="Liberation Serif, serif" font-weight="normal" font-size="18.5">α</tspan>=0</text>
<text x="523.9" y="14.5" font-size="16.5"><tspan font-family="Liberation Serif, serif" font-weight="normal" font-size="18.5">α</tspan>=1</text>
<text x="176.3" y="252.5" font-size="17.5" font-family="Liberation Serif, serif" font-weight="normal">λ</text>
<text x="527.8" y="252.8" font-size="17.5" font-family="Liberation Serif, serif" font-weight="normal">λ</text>
<text transform="translate(13.4 157.3) rotate(-90)" font-size="15.8">Option Value</text>
<text transform="translate(359.7 171.3) rotate(-90)" font-size="15.8">Option Value</text>
<rect x="71" y="265.8" width="563.3" height="98.6" fill="none" stroke="#000" stroke-width="1.1"/>
<path d="M77.90 282.0H114.60" stroke="#000" stroke-width="2"/>
<text x="122.6" y="284.0" font-size="13.35">Exponential (p<tspan font-size="8.6" dy="6.3">0</tspan><tspan dy="-6.3">=0.1)</tspan></text>
<path d="M77.90 315.1H114.60" stroke="#000" stroke-width="2" stroke-dasharray="7.35 7.35"/>
<text x="122.6" y="316.9" font-size="13.35">Logarithmic (p<tspan font-size="8.6" dy="6.3">0</tspan><tspan dy="-6.3">=0.1)</tspan></text>
<path d="M77.85 348.1H111.85" stroke="#000" stroke-width="2.4" stroke-opacity="0.75" stroke-dasharray="1.1 4.35"/>
<text x="122.6" y="349.8" font-size="13.35">RNV (p<tspan font-size="8.6" dy="6.3">0</tspan><tspan dy="-6.3">=0.1)</tspan></text>
<path d="M265.90 282.0H302.60" stroke="#00f" stroke-width="2"/>
<text x="310.6" y="284.0" font-size="13.35">Exponential (p<tspan font-size="8.6" dy="6.3">0</tspan><tspan dy="-6.3">=1)</tspan></text>
<path d="M265.90 315.1H302.60" stroke="#00f" stroke-width="2" stroke-dasharray="7.35 7.35"/>
<text x="310.6" y="316.9" font-size="13.35">Logarithmic (p<tspan font-size="8.6" dy="6.3">0</tspan><tspan dy="-6.3">=1)</tspan></text>
<path d="M265.85 348.1H299.85" stroke="#00f" stroke-width="2.4" stroke-opacity="0.75" stroke-dasharray="1.1 4.35"/>
<text x="310.6" y="349.8" font-size="13.35">RNV (p<tspan font-size="8.6" dy="6.3">0</tspan><tspan dy="-6.3">=1)</tspan></text>
<path d="M453.90 282.0H490.60" stroke="#f00" stroke-width="2"/>
<text x="498.6" y="284.0" font-size="13.35">Exponential (p<tspan font-size="8.6" dy="6.3">0</tspan><tspan dy="-6.3">=10)</tspan></text>
<path d="M453.90 315.1H490.60" stroke="#f00" stroke-width="2" stroke-dasharray="7.35 7.35"/>
<text x="498.6" y="316.9" font-size="13.35">Logarithmic (p<tspan font-size="8.6" dy="6.3">0</tspan><tspan dy="-6.3">=10)</tspan></text>
<path d="M453.85 348.1H487.85" stroke="#f00" stroke-width="2.4" stroke-opacity="0.75" stroke-dasharray="1.1 4.35"/>
<text x="498.6" y="349.8" font-size="13.35">RNV (p<tspan font-size="8.6" dy="6.3">0</tspan><tspan dy="-6.3">=10)</tspan></text>
</svg>
</body></html>
